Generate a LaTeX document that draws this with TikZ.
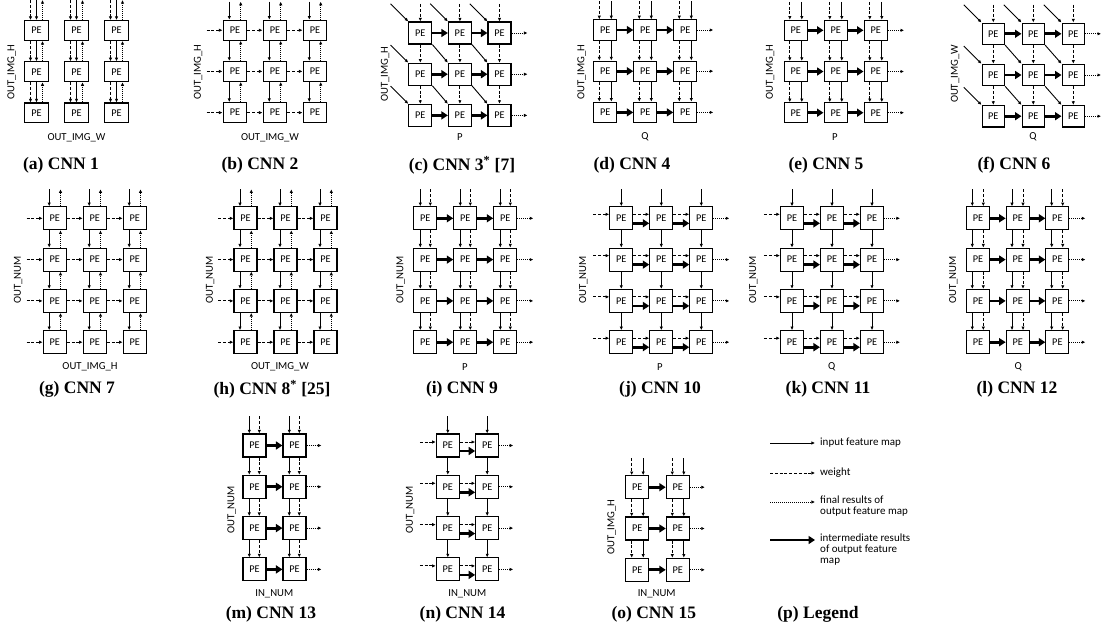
\documentclass[tikz,border=0pt]{standalone}
\usepackage{fontspec}
\setmainfont{Liberation Serif}
\newfontfamily\pesans{Carlito}
\usetikzlibrary{arrows.meta}

\tikzset{
  pe/.style={draw, line width=1.1pt, inner sep=0pt, font=\pesans\fontsize{10.3}{12}\selectfont, fill=white},
  lab/.style={font=\pesans\fontsize{10.7}{12}\selectfont, inner sep=0pt},
  legtext/.style={font=\pesans\fontsize{11}{11}\selectfont, inner sep=0pt, align=left},
  capt/.style={font=\fontsize{17.5}{20}\selectfont\bfseries, inner sep=0pt},
  sol/.style={line width=0.9pt, -{Latex[length=3.6pt,width=3.4pt]}},
  dsh/.style={sol, dash pattern=on 3pt off 1.8pt},
  dtt/.style={sol, dash pattern=on 1pt off 1pt},
  thk/.style={line width=2.8pt, -{Triangle[length=6.5pt,width=8pt]}},
}

% grid of PE nodes: name, x, y, cols, rows, dx, dy, w, h
\newcommand\PEgrid[9]{%
  \foreach \r in {1,...,#5}{\foreach \c in {1,...,#4}{
    \node[pe, minimum width=#8pt, minimum height=#9pt] (#1-\r-\c) at ({#2+(\c-1)*#6},{#3+(\r-1)*#7}) {PE};}}}
% downward arrows: name, cols, rows, style, xoff, toplen
\newcommand\PEvdown[6]{%
  \pgfmathtruncatemacro\PElr{#3-1}%
  \foreach \c in {1,...,#2}{
    \draw[#4] ([xshift=#5pt,yshift=#6pt]#1-1-\c.north) -- ([xshift=#5pt]#1-1-\c.north);
    \foreach \r [evaluate=\r as \rn using int(\r+1)] in {1,...,\PElr}{
      \draw[#4] ([xshift=#5pt]#1-\r-\c.south) -- ([xshift=#5pt]#1-\rn-\c.north);}}}
% upward arrows
\newcommand\PEvup[6]{%
  \pgfmathtruncatemacro\PElr{#3-1}%
  \foreach \c in {1,...,#2}{
    \draw[#4] ([xshift=#5pt]#1-1-\c.north) -- ([xshift=#5pt,yshift=#6pt]#1-1-\c.north);
    \foreach \r [evaluate=\r as \rn using int(\r+1)] in {1,...,\PElr}{
      \draw[#4] ([xshift=#5pt]#1-\rn-\c.north) -- ([xshift=#5pt]#1-\r-\c.south);}}}
% horizontal between columns: name, cols, rows, style, yoff
\newcommand\PEhbetween[5]{%
  \pgfmathtruncatemacro\PElc{#2-1}%
  \foreach \r in {1,...,#3}{\foreach \c [evaluate=\c as \cn using int(\c+1)] in {1,...,\PElc}{
    \draw[#4] ([yshift=#5pt]#1-\r-\c.east) -- ([yshift=#5pt]#1-\r-\cn.west);}}}
% incoming from left: name, rows, style, yoff, len
\newcommand\PEhin[5]{%
  \foreach \r in {1,...,#2}{
    \draw[#3] ([xshift=-#5pt,yshift=#4pt]#1-\r-1.west) -- ([yshift=#4pt]#1-\r-1.west);}}
% outgoing to right: name, cols, rows, style, len
\newcommand\PEhout[5]{%
  \foreach \r in {1,...,#3}{
    \draw[#4] (#1-\r-#2.east) -- ([xshift=#5pt]#1-\r-#2.east);}}
% diagonals: name, cols, rows, len
\newcommand\PEdiag[4]{%
  \pgfmathtruncatemacro\PElr{#3-1}%
  \pgfmathtruncatemacro\PElc{#2-1}%
  \foreach \c in {1,...,#2}{
    \draw[sol] ([xshift=-#4pt,yshift=#4pt]#1-1-\c.north west) -- (#1-1-\c.north west);}
  \foreach \r in {2,...,#3}{
    \draw[sol] ([xshift=-#4pt,yshift=#4pt]#1-\r-1.north west) -- (#1-\r-1.north west);}
  \foreach \r [evaluate=\r as \rn using int(\r+1)] in {1,...,\PElr}{
    \foreach \c [evaluate=\c as \cn using int(\c+1)] in {1,...,\PElc}{
      \draw[sol] (#1-\r-\c.south east) -- (#1-\rn-\cn.north west);}}}

\begin{document}
\begin{tikzpicture}[x=1pt,y=-1pt]
\path[use as bounding box] (0,0) rectangle (1101,637);

% ---------- (a) CNN 1
\PEgrid{a}{36.5}{30.5}{3}{3}{40}{41.2}{23.8}{19.8}
\PEvdown{a}{3}{3}{dsh}{-6}{20}
\PEvdown{a}{3}{3}{sol}{0}{20}
\PEvup{a}{3}{3}{dtt}{6}{20}
\node[lab,rotate=90] (a-ly) at (11.7,72) {OUT\_IMG\_H};
\node[lab] (a-lx) at (76.5,138) {OUT\_IMG\_W};
\node[capt] (a-cap) at (61,165) {(a) CNN 1};

% ---------- (b) CNN 2
\PEgrid{b}{235}{30.2}{3}{3}{40}{41.2}{23.8}{20}
\PEvdown{b}{3}{3}{sol}{-5.7}{18}
\PEvup{b}{3}{3}{dtt}{5.7}{18}
\PEhin{b}{3}{dsh}{0}{16}
\PEhbetween{b}{3}{3}{dsh}{0}
\node[lab,rotate=90] (b-ly) at (198,72) {OUT\_IMG\_H};
\node[lab] (b-lx) at (270,138) {OUT\_IMG\_W};
\node[capt] (b-cap) at (260,165) {(b) CNN 2};

% ---------- (c) CNN 3
\PEgrid{c}{420.3}{33}{3}{3}{39.6}{41.2}{23}{22}
\PEvdown{c}{3}{3}{dsh}{0}{17.5}
\PEdiag{c}{3}{3}{17.7}
\PEhbetween{c}{3}{3}{thk}{0}
\PEhout{c}{3}{3}{dtt}{16}
\node[lab,rotate=90] (c-ly) at (385,74) {OUT\_IMG\_H};
\node[lab] (c-lx) at (460,137) {P};
\node[capt] (c-cap) at (462,165) {(c) CNN 3\textsuperscript{*} [7]};

% ---------- (d) CNN 4
\PEgrid{d}{605.3}{30}{3}{3}{40}{41.2}{23}{20.3}
\PEvdown{d}{3}{3}{dsh}{-6}{18}
\PEvdown{d}{3}{3}{sol}{6}{18}
\PEhbetween{d}{3}{3}{thk}{0}
\PEhout{d}{3}{3}{dtt}{16}
\node[lab,rotate=90] (d-ly) at (581.7,72) {OUT\_IMG\_H};
\node[lab] (d-lx) at (645,137) {Q};
\node[capt] (d-cap) at (632,165) {(d) CNN 4};

% ---------- (e) CNN 5
\PEgrid{e}{795.8}{30.3}{3}{3}{40}{41.2}{23.5}{20}
\PEvdown{e}{3}{3}{dsh}{-6}{18}
\PEvdown{e}{3}{3}{sol}{6}{18}
\PEhbetween{e}{3}{3}{thk}{0}
\PEhout{e}{3}{3}{dtt}{16}
\node[lab,rotate=90] (e-ly) at (770,72) {OUT\_IMG\_H};
\node[lab] (e-lx) at (835,137) {P};
\node[capt] (e-cap) at (826,165) {(e) CNN 5};

% ---------- (f) CNN 6
\PEgrid{f}{993.3}{33.8}{3}{3}{40}{41.2}{22.5}{21.5}
\PEvdown{f}{3}{3}{dsh}{0}{18}
\PEdiag{f}{3}{3}{17.7}
\PEhbetween{f}{3}{3}{thk}{0}
\PEhout{f}{3}{3}{dtt}{16}
\node[lab,rotate=90] (f-ly) at (955,74) {OUT\_IMG\_W};
\node[lab] (f-lx) at (1033,137) {Q};
\node[capt] (f-cap) at (1014,165) {(f) CNN 6};

% ---------- (g) CNN 7
\PEgrid{g}{54.7}{218.3}{3}{4}{40}{41.3}{23}{23}
\PEvdown{g}{3}{4}{sol}{-5.5}{17}
\PEvup{g}{3}{4}{dtt}{5.8}{17}
\PEhin{g}{4}{dsh}{0}{16}
\PEhbetween{g}{3}{4}{dsh}{0}
\node[lab,rotate=90] (g-ly) at (18,280) {OUT\_NUM};
\node[lab] (g-lx) at (90,367) {OUT\_IMG\_H};
\node[capt] (g-cap) at (77,389) {(g) CNN 7};

% ---------- (h) CNN 8
\PEgrid{h}{245.5}{218.3}{3}{4}{40}{41.3}{23}{23}
\PEvdown{h}{3}{4}{sol}{-5.5}{17}
\PEvup{h}{3}{4}{dtt}{5.8}{17}
\PEhin{h}{4}{dsh}{0}{15}
\PEhbetween{h}{3}{4}{dsh}{0}
\node[lab,rotate=90] (h-ly) at (210,280) {OUT\_NUM};
\node[lab] (h-lx) at (280,367) {OUT\_IMG\_W};
\node[capt] (h-cap) at (272,389) {(h) CNN 8\textsuperscript{*} [25]};

% ---------- (i) CNN 9
\PEgrid{i}{425.3}{218.3}{3}{4}{40}{41.3}{23}{23}
\PEvdown{i}{3}{4}{sol}{-5}{17}
\PEvdown{i}{3}{4}{dsh}{5}{17}
\PEhbetween{i}{3}{4}{thk}{0}
\PEhout{i}{3}{4}{dtt}{16}
\node[lab,rotate=90] (i-ly) at (400.7,280) {OUT\_NUM};
\node[lab] (i-lx) at (465,367) {P};
\node[capt] (i-cap) at (462,389) {(i) CNN 9};

% ---------- (j) CNN 10
\PEgrid{j}{621.3}{218.3}{3}{4}{40}{41.3}{23}{23}
\PEvdown{j}{3}{4}{sol}{0}{17}
\PEhin{j}{4}{dsh}{4}{16}
\PEhbetween{j}{3}{4}{dsh}{4}
\PEhbetween{j}{3}{4}{thk}{-5}
\PEhout{j}{3}{4}{dtt}{16}
\node[lab,rotate=90] (j-ly) at (583.3,280) {OUT\_NUM};
\node[lab] (j-lx) at (660,367) {P};
\node[capt] (j-cap) at (660,389) {(j) CNN 10};

% ---------- (k) CNN 11
\PEgrid{k}{792}{218.3}{3}{4}{40}{41.3}{23}{23}
\PEvdown{k}{3}{4}{sol}{0}{17}
\PEhin{k}{4}{dsh}{4}{16}
\PEhbetween{k}{3}{4}{dsh}{4}
\PEhbetween{k}{3}{4}{thk}{-5}
\PEhout{k}{3}{4}{dtt}{16}
\node[lab,rotate=90] (k-ly) at (753.3,280) {OUT\_NUM};
\node[lab] (k-lx) at (831.7,367) {Q};
\node[capt] (k-cap) at (828,389) {(k) CNN 11};

% ---------- (l) CNN 12
\PEgrid{l}{978}{218.3}{3}{4}{39.7}{41.3}{23}{23}
\PEvdown{l}{3}{4}{sol}{-5.7}{17}
\PEvdown{l}{3}{4}{dsh}{5.3}{17}
\PEhbetween{l}{3}{4}{thk}{0}
\PEhout{l}{3}{4}{dtt}{16}
\node[lab,rotate=90] (l-ly) at (953.3,280) {OUT\_NUM};
\node[lab] (l-lx) at (1018.3,367) {Q};
\node[capt] (l-cap) at (1017,389) {(l) CNN 12};

% ---------- (m) CNN 13
\PEgrid{m}{254.5}{445.5}{2}{4}{40}{41.3}{23}{23}
\PEvdown{m}{2}{4}{sol}{-5.2}{17}
\PEvdown{m}{2}{4}{dsh}{4.8}{17}
\PEhbetween{m}{2}{4}{thk}{0}
\PEhout{m}{2}{4}{dtt}{15}
\node[lab,rotate=90] (m-ly) at (231.7,510) {OUT\_NUM};
\node[lab] (m-lx) at (274.3,594) {IN\_NUM};
\node[capt] (m-cap) at (271,614) {(m) CNN 13};

% ---------- (n) CNN 14
\PEgrid{n}{447.8}{445.5}{2}{4}{39.4}{41.3}{23}{23}
\PEvdown{n}{2}{4}{sol}{0}{17}
\PEhin{n}{4}{dsh}{3.5}{16}
\PEhbetween{n}{2}{4}{dsh}{3.5}
\PEhbetween{n}{2}{4}{thk}{-5.5}
\PEhout{n}{2}{4}{dtt}{14}
\node[lab,rotate=90] (n-ly) at (410,510) {OUT\_NUM};
\node[lab] (n-lx) at (467.3,594) {IN\_NUM};
\node[capt] (n-cap) at (462.5,614) {(n) CNN 14};

% ---------- (o) CNN 15
\PEgrid{o}{637.2}{487.2}{2}{3}{40.6}{41.3}{23}{23}
\PEvdown{o}{2}{3}{dsh}{-5.5}{17}
\PEvdown{o}{2}{3}{sol}{6}{17}
\PEhbetween{o}{2}{3}{thk}{0}
\PEhout{o}{2}{3}{dtt}{15}
\node[lab,rotate=90] (o-ly) at (611.7,527) {OUT\_IMG\_H};
\node[lab] (o-lx) at (656.7,594) {IN\_NUM};
\node[capt] (o-cap) at (653.8,614) {(o) CNN 15};

% ---------- (p) Legend
\coordinate (p1a) at (770,443); \coordinate (p1b) at (815,443);
\coordinate (p2a) at (770,473); \coordinate (p2b) at (815,473);
\coordinate (p3a) at (770,502); \coordinate (p3b) at (815,502);
\coordinate (p4a) at (770,540); \coordinate (p4b) at (815,540);
\draw[sol] (p1a) -- (p1b);
\draw[dsh] (p2a) -- (p2b);
\draw[dtt] (p3a) -- (p3b);
\draw[thk] (p4a) -- (p4b);
\node[legtext,anchor=west] (p1t) at (820,443) {input feature map};
\node[legtext,anchor=west] (p2t) at (820,473) {weight};
\node[legtext,anchor=north west] (p3t) at (820,495.5) {final results of\\output feature map};
\node[legtext,anchor=north west] (p4t) at (820,533.5) {intermediate results\\of output feature\\map};
\node[capt] (p-cap) at (818,614) {(p) Legend};
\end{tikzpicture}
\end{document}
